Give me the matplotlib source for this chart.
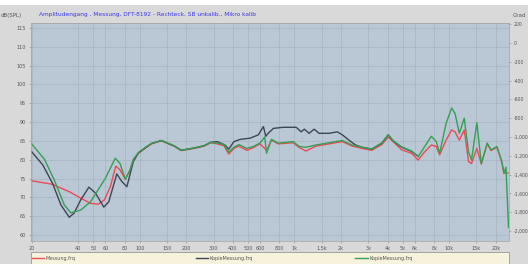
import matplotlib
matplotlib.use("Agg")
from matplotlib import pyplot as plt
from matplotlib.patches import Rectangle
from matplotlib.ticker import FixedLocator, NullLocator

# Messung.frq (red)
red_f = [20, 27, 35, 41.5, 48, 54, 59, 64.5, 70, 74.5, 80.6, 86.6, 91, 98, 108, 119, 138,
         168, 185, 225, 260, 287, 317, 350, 376, 406, 437, 492, 542, 598, 642, 660, 710, 785,
         978, 1077, 1186, 1375, 1678, 2038, 2360, 2732, 3160, 3668, 4040, 4356, 4930, 5710,
         6300, 6950, 7670, 8260, 8680, 9560, 10380, 10914, 11630, 12520, 13340, 13950, 15100,
         16140, 17620, 18660, 20380, 21900, 22600, 24000]
red_db = [74.4, 73.5, 71.5, 69.8, 68.4, 68.2, 69.3, 72.8, 78.3, 77.3, 74.8, 77.3, 80.1, 81.7,
          83.0, 84.2, 85.0, 83.5, 82.4, 83.0, 83.6, 84.5, 84.2, 83.7, 81.5, 83.0, 83.6, 82.5,
          83.2, 84.2, 83.0, 82.4, 85.2, 84.2, 84.5, 83.2, 82.3, 83.6, 84.2, 84.8, 83.6, 83.0,
          82.5, 84.0, 86.0, 84.8, 82.6, 81.7, 79.9, 82.1, 83.9, 83.5, 81.3, 85.2, 87.9, 87.4,
          85.2, 87.9, 79.5, 79.0, 83.0, 78.9, 84.2, 82.4, 83.3, 79.3, 76.4, 76.5]

# KopieMessung.frq (dark grey)
grey_f = [20, 23.6, 27.3, 30.9, 35, 37.6, 41.5, 46.9, 51.8, 58.5, 63, 71, 76.6, 82.5, 90.8,
          98, 108, 119, 138, 168, 185, 225, 260, 287, 317, 355, 376, 406, 446, 516, 584, 630,
          652, 676, 730, 845, 1026, 1103, 1158, 1244, 1340, 1442, 1678, 1892, 2038, 2248,
          2480, 2732, 3160, 3668, 4040, 4356, 4930, 5710, 6300]
grey_db = [82.1, 78.6, 73.7, 68.0, 64.7, 65.8, 69.3, 72.7, 71.1, 67.4, 68.8, 76.2, 74.2, 72.8,
           79.5, 81.8, 83.1, 84.3, 85.1, 83.6, 82.5, 83.1, 83.7, 84.6, 84.8, 83.9, 82.8, 84.8,
           85.4, 85.7, 86.6, 88.8, 86.2, 87.0, 88.3, 88.6, 88.6, 87.4, 88.1, 87.0, 88.1, 87.0,
           87.0, 87.4, 86.6, 85.2, 83.9, 83.3, 82.8, 84.4, 86.6, 84.9, 83.3, 82.2, 80.9]

# KopieMessung.frq (green)
green_f = [20, 24.2, 28, 32.5, 35.8, 41.5, 48, 60, 69.4, 74.5, 80.6, 86.6, 91, 98, 108, 119,
           138, 168, 185, 225, 260, 287, 317, 350, 376, 406, 437, 492, 542, 598, 642, 660, 710,
           785, 978, 1077, 1186, 1375, 1678, 2038, 2360, 2732, 3160, 3668, 4040, 4356, 4930,
           5710, 6300, 6950, 7670, 8260, 8680, 9560, 10380, 10914, 11630, 12520, 13340, 13950,
           15100, 16140, 17620, 18660, 20380, 21900, 22600, 23300, 24200]
green_db = [84.2, 80.1, 74.6, 68.0, 65.9, 66.6, 68.8, 75.1, 80.4, 79.0, 74.8, 77.3, 80.1, 81.9,
            83.2, 84.3, 85.1, 83.6, 82.5, 83.1, 83.7, 84.6, 84.4, 84.0, 82.0, 83.3, 84.0, 83.0,
            83.5, 84.4, 86.0, 81.7, 85.4, 84.4, 84.8, 83.5, 83.3, 83.9, 84.5, 85.1, 83.9, 83.3,
            82.8, 84.4, 86.6, 85.0, 83.4, 82.3, 80.8, 83.5, 86.2, 84.8, 81.7, 89.7, 93.7, 92.3,
            87.0, 91.0, 82.1, 79.9, 89.8, 78.9, 84.4, 82.6, 83.5, 79.5, 76.4, 78.0, 62.0]

x_ticks = [20, 40, 50, 60, 80, 100, 150, 200, 300, 400, 500, 600, 800, 1000, 1500, 2000,
           3000, 4000, 5000, 6000, 8000, 10000, 15000, 20000]
x_labels = ['20', '40', '50', '60', '80', '100', '150', '200', '300', '400', '500', '600',
            '800', '1k', '1.5k', '2k', '3k', '4k', '5k', '6k', '8k', '10k', '15k', '20k']
y_ticks = list(range(60, 120, 5))
phase_ticks = list(range(200, -2001, -200))
phase_labels = ['200', '0', '-200', '-400', '-600', '-800', '-1,000', '-1,200', '-1,400',
                '-1,600', '-1,800', '-2,000']

fig = plt.figure(figsize=(5.28, 2.64), dpi=100, facecolor='#d9d9d9')
# white strip along the top edge
fig.patches.append(Rectangle((0, 0.98), 1, 0.02, transform=fig.transFigure,
                             facecolor='white', edgecolor='none'))
ax = fig.add_axes([0.0587, 0.0871, 0.906, 0.8258])
ax.set_facecolor('#bac7d4')

l1, = ax.plot(red_f, red_db, color='#ec4a55', lw=1.0)
l2, = ax.plot(grey_f, grey_db, color='#3e4652', lw=1.0)
l3, = ax.plot(green_f, green_db, color='#35a055', lw=1.0)

ax.set_xscale('log')
ax.set_xlim(19.8, 24500)
ax.set_ylim(58.4, 116.3)
ax.xaxis.set_major_locator(FixedLocator(x_ticks))
ax.xaxis.set_minor_locator(NullLocator())
ax.set_xticklabels(x_labels)
ax.set_yticks(y_ticks)
ax.tick_params(labelsize=3.5, labelcolor='#555555', length=1.5, width=0.4, color='#888888', pad=2)
ax.grid(True, color='#aab7c4', lw=0.6)
for s in ax.spines.values():
    s.set_color('#a0a0a0')
    s.set_linewidth(0.5)

ax2 = ax.twinx()
ax2.set_ylim(-2106, 213)
ax2.set_yticks(phase_ticks)
ax2.set_yticklabels(phase_labels)
ax2.tick_params(labelsize=3.3, labelcolor='#555555', length=1.5, width=0.4, color='#888888', pad=1.5)
for s in ax2.spines.values():
    s.set_visible(False)

fig.text(0.28, 0.945, 'Amplitudengang , Messung, DFT-8192 - Rechteck, SB unkalib., Mikro kalib',
         ha='center', va='center', fontsize=4.2, color='#3a3ae8')
fig.text(0.002, 0.94, 'dB(SPL)', ha='left', va='center', fontsize=4, color='#555555')
fig.text(0.972, 0.94, 'Grad', ha='left', va='center', fontsize=4, color='#555555')

# legend box across the bottom
fig.patches.append(Rectangle((0.0587, -0.01), 0.906, 0.055, transform=fig.transFigure,
                             facecolor='#f6f2dc', edgecolor='#999999', lw=0.6))
for handle, text, x0 in [(l1, 'Messung.frq', 0.052),
                         (l2, 'KopieMessung.frq', 0.362),
                         (l3, 'KopieMessung.frq', 0.665)]:
    fig.legend([handle], [text], loc='center left', bbox_to_anchor=(x0, 0.022),
               fontsize=3.5, frameon=False, handlelength=2.5, handletextpad=0.4,
               labelcolor='#555555')

fig.savefig('out.png', dpi=100, facecolor=fig.get_facecolor())
